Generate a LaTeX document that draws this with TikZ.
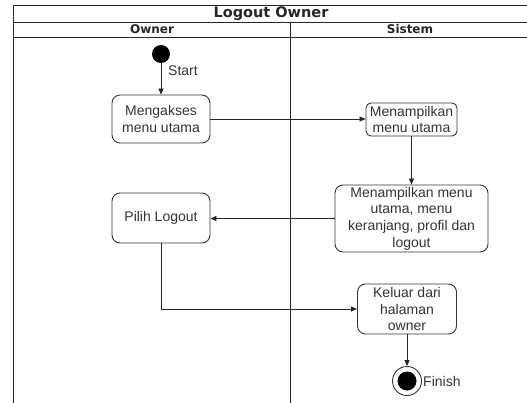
\documentclass[tikz,border=0pt]{standalone}
\usepackage{fontspec}
\setmainfont{Liberation Sans}
\newfontfamily\headfont{DejaVu Sans}
\usetikzlibrary{arrows.meta}
\begin{document}
\begin{tikzpicture}[x=1pt,y=-1pt,
  lane/.style={draw=black!85, line width=0.9pt},
  act/.style={draw=black!80, line width=0.9pt, rounded corners=8pt, align=center,
    inner sep=0pt, font=\fontsize{14}{16.6}\selectfont, text=black!80},
  flow/.style={draw=black!85, line width=0.8pt, -{Triangle[length=6pt,width=5pt]}},
  lbl/.style={font=\fontsize{14}{16.6}\selectfont, text=black!80, inner sep=0pt},
  head/.style={font=\headfont\bfseries\fontsize{12}{12}\selectfont, text=black!85, inner sep=0pt}
]
\useasboundingbox (0,0) rectangle (527,403);
% swimlane frame
\begin{scope}
  \clip (0,0) rectangle (527,403);
  \draw[lane] (13,420) -- (13,5) -- (540,5);
  \draw[lane] (13,22) -- (540,22);
  \draw[lane] (13,37) -- (540,37);
  \draw[lane] (290,22) -- (290,420);
\end{scope}
\node[head, font=\headfont\bfseries\fontsize{14.5}{14.5}\selectfont] (title) at (271,13.5) {Logout Owner};
\node[head] (owner) at (152,29.5) {Owner};
\node[head] (sistem) at (410,29.5) {Sistem};

% activities
\node[circle, fill=black, minimum size=18pt, inner sep=0pt] (start) at (161,54) {};
\node[lbl, anchor=west] (startlbl) at (168,71) {Start};
\node[act, minimum width=98pt, minimum height=48pt] (A) at (161,119) {Mengakses\\menu utama};
\node[act, rounded corners=5pt, minimum width=91pt, minimum height=33pt] (B) at (411.5,119.5) {Menampilkan\\menu utama};
\node[act, minimum width=153pt, minimum height=67pt] (C) at (411.5,218.5) {Menampilkan menu\\utama, menu\\keranjang, profil dan\\logout};
\node[act, minimum width=98pt, minimum height=50pt] (D) at (161,218) {Pilih Logout};
\node[act, minimum width=99pt, minimum height=50pt] (E) at (407,309) {Keluar dari\\halaman\\owner};
\node[circle, draw=black!80, line width=0.9pt, minimum size=29pt, inner sep=0pt] (fin) at (407,381) {};
\node[circle, fill=black, minimum size=19pt, inner sep=0pt] (findot) at (fin) {};
\node[lbl, anchor=west] (finlbl) at (423,381) {Finish};

% control flow
\draw[flow] (start) -- (A);
\draw[flow] (A.east) -- (A.east -| B.west);
\draw[flow] (B) -- (C);
\draw[flow] (C.west) -- (C.west -| D.east);
\draw[flow] (D.south) |- (E.west);
\draw[flow] (E) -- (fin);
\end{tikzpicture}
\end{document}
